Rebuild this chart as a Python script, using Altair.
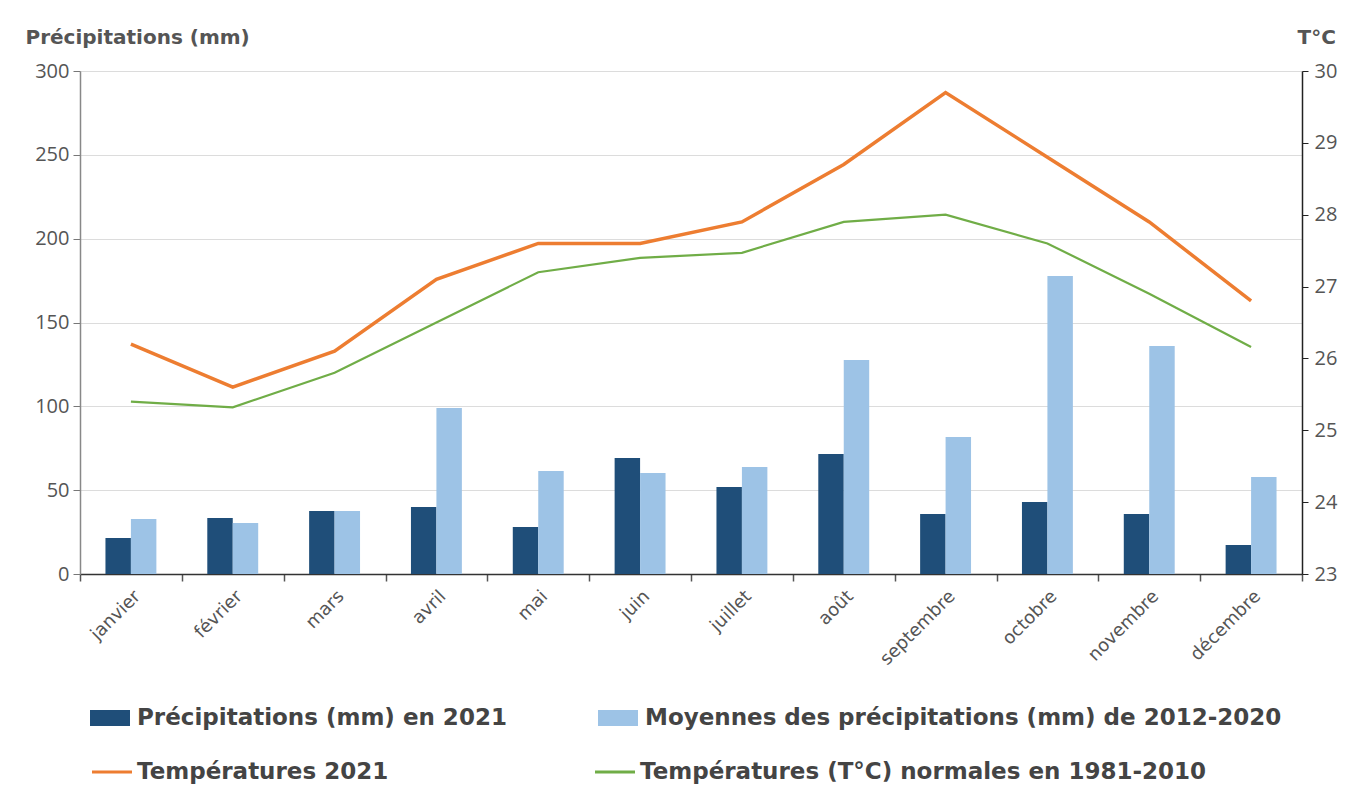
import altair as alt
import pandas as pd

mois = ["janvier", "février", "mars", "avril", "mai", "juin", "juillet",
        "août", "septembre", "octobre", "novembre", "décembre"]
precip_2021 = [21.5, 33.4, 37.6, 40.0, 28.0, 69.2, 51.9, 71.6, 35.8, 42.9, 35.8, 17.3]
precip_moy = [32.8, 30.4, 37.6, 99.0, 61.4, 60.2, 63.8, 127.6, 81.7, 177.7, 136.0, 57.8]
temp_2021 = [26.2, 25.6, 26.1, 27.1, 27.6, 27.6, 27.9, 28.7, 29.7, 28.8, 27.9, 26.8]
temp_normales = [25.4, 25.32, 25.8, 26.5, 27.2, 27.4, 27.47, 27.9, 28.0, 27.6, 26.9, 26.16]

bar_series = ["Précipitations (mm) en 2021", "Moyennes des précipitations (mm) de 2012-2020"]
line_series = ["Températures 2021", "Températures (T°C) normales en 1981-2010"]
bar_colors = ["#1f4e79", "#9dc3e6"]
line_colors = ["#ed7d31", "#70ad47"]
line_widths = [3.5, 2.2]

bars_df = pd.DataFrame(
    [{"mois": m, "serie": bar_series[0], "valeur": v} for m, v in zip(mois, precip_2021)]
    + [{"mois": m, "serie": bar_series[1], "valeur": v} for m, v in zip(mois, precip_moy)]
)
lines_df = pd.DataFrame(
    [{"mois": m, "serie": line_series[0], "temp": v} for m, v in zip(mois, temp_2021)]
    + [{"mois": m, "serie": line_series[1], "temp": v} for m, v in zip(mois, temp_normales)]
)

NUM_FONT = "Open Sans"
TXT_FONT = "DejaVu Sans"
LAB = "#555555"

x_scale = alt.Scale(domain=mois, paddingInner=0, paddingOuter=0)
x_axis = alt.Axis(title=None, labelAngle=-45, labelAlign="right", labelBaseline="top",
                  labelFontSize=18, labelColor=LAB, labelFont=TXT_FONT, labelPadding=6,
                  tickBand="extent", tickSize=7, tickColor="#555555", tickWidth=1.5,
                  domainColor="#333333", domainWidth=1.5, grid=False)

legend_common = dict(title=None, orient="none", legendX=10, direction="horizontal",
                     columns=2, symbolSize=1600, labelFontSize=23, labelFontWeight="bold",
                     labelColor="#444444", labelFont=TXT_FONT, labelLimit=800, padding=0)

bars = alt.Chart(bars_df).mark_bar().encode(
    x=alt.X("mois:N", scale=x_scale, axis=x_axis, sort=mois),
    xOffset=alt.XOffset("serie:N", sort=bar_series,
                        scale=alt.Scale(domain=bar_series, paddingInner=0, paddingOuter=1.0)),
    y=alt.Y("valeur:Q", scale=alt.Scale(domain=[0, 300], nice=False),
            axis=alt.Axis(title="Précipitations (mm)", titleAngle=0, titleX=-55, titleY=-34,
                          titleAlign="left", titleBaseline="middle", titleFontSize=20,
                          titleFontWeight="bold", titleColor=LAB, titleFont=TXT_FONT,
                          values=[0, 50, 100, 150, 200, 250, 300], labelFontSize=20,
                          labelColor=LAB, labelFont=NUM_FONT, labelPadding=4, tickSize=7,
                          tickColor="#777777", domainColor="#888888", domainWidth=1.5,
                          gridColor="#dcdcdc", gridWidth=1)),
    color=alt.Color("serie:N", scale=alt.Scale(domain=bar_series, range=bar_colors),
                    legend=alt.Legend(legendY=627, columnPadding=91, labelOffset=7,
                                      symbolType="M-1,-0.4H1V0.4H-1Z",
                                      symbolStrokeWidth=0, symbolOpacity=1,
                                      **legend_common)),
)

temp_values = [23 + 0.5 * i for i in range(15)]
lines = alt.Chart(lines_df).mark_line().encode(
    x=alt.X("mois:N", scale=x_scale, axis=x_axis, sort=mois),
    y=alt.Y("temp:Q", scale=alt.Scale(domain=[23, 30], nice=False, zero=False),
            axis=alt.Axis(orient="right", title="T°C", titleAngle=0, titleX=-5, titleY=-34,
                          titleAlign="left", titleBaseline="middle", titleFontSize=20,
                          titleFontWeight="bold", titleColor=LAB, titleFont=TXT_FONT,
                          values=temp_values, format="d",
                          labelExpr="datum.value % 1 == 0 ? datum.label : ''",
                          labelFontSize=20, labelColor=LAB, labelFont=NUM_FONT, labelPadding=6,
                          tickSize=6, tickColor="#222222", domainColor="#222222",
                          domainWidth=1.5, grid=False)),
    stroke=alt.Stroke("serie:N", sort=line_series,
                      scale=alt.Scale(domain=line_series, range=line_colors),
                      legend=alt.Legend(legendY=679, columnPadding=199, labelOffset=3,
                                        symbolType="stroke", symbolStrokeWidth=3.2,
                                        **legend_common)),
    strokeWidth=alt.StrokeWidth("serie:N",
                                scale=alt.Scale(domain=line_series, range=line_widths),
                                legend=None),
)

chart = alt.layer(bars, lines).resolve_scale(
    y="independent", color="independent", stroke="independent"
).properties(
    width=1222, height=503,
    padding={"left": 72, "top": 63, "right": 45, "bottom": 215},
    autosize=alt.AutoSizeParams(type="none"),
).configure_view(stroke=None).configure(font=TXT_FONT)

chart.save("out.html", embed_options={"renderer": "svg", "actions": False})
